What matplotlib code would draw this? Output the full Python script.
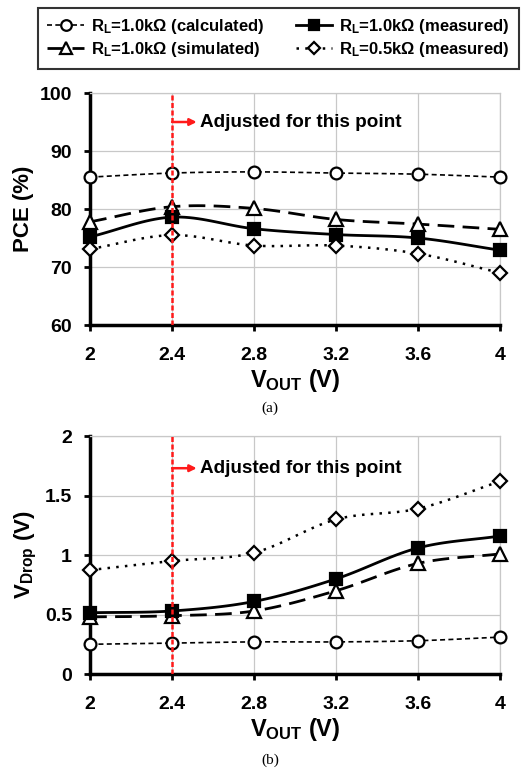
import numpy as np
import matplotlib
matplotlib.use("Agg")
import matplotlib.pyplot as plt
from matplotlib.lines import Line2D

plt.rcParams['font.family'] = ['Liberation Sans', 'DejaVu Sans']
plt.rcParams['font.weight'] = 'bold'
plt.rcParams['mathtext.fontset'] = 'custom'
plt.rcParams['mathtext.rm'] = 'Liberation Sans:bold'
plt.rcParams['mathtext.it'] = 'Liberation Sans:bold'
plt.rcParams['mathtext.bf'] = 'Liberation Sans:bold'

# data
vout = [2.0, 2.4, 2.8, 3.2, 3.6, 4.0]

pce_calc = [85.5, 86.2, 86.4, 86.2, 86.0, 85.5]
pce_sim = [77.8, 80.4, 80.1, 78.2, 77.4, 76.5]
pce_meas1 = [75.2, 78.6, 76.6, 75.6, 75.0, 72.9]
pce_meas05 = [73.1, 75.5, 73.7, 73.7, 72.3, 69.0]

vd_calc = [0.25, 0.26, 0.27, 0.27, 0.28, 0.31]
vd_sim = [0.48, 0.49, 0.53, 0.70, 0.93, 1.01]
vd_meas1 = [0.515, 0.53, 0.61, 0.80, 1.06, 1.16]
vd_meas05 = [0.874, 0.95, 1.02, 1.30, 1.39, 1.62]

labels = [r'R$_L$=1.0k$\Omega$ (calculated)', r'R$_L$=1.0k$\Omega$ (simulated)',
          r'R$_L$=1.0k$\Omega$ (measured)', r'R$_L$=0.5k$\Omega$ (measured)']


def smooth(x, y, n=20):
    # bezier path through the points (like excel smoothed lines)
    x = np.asarray(x, float)
    y = np.asarray(y, float)
    px = np.concatenate([[2 * x[0] - x[1]], x, [2 * x[-1] - x[-2]]])
    py = np.concatenate([[2 * y[0] - y[1]], y, [2 * y[-1] - y[-2]]])
    xs, ys = [], []
    t = np.linspace(0, 1, n)
    for i in range(1, len(px) - 2):
        for p, out in ((px, xs), (py, ys)):
            p0, p1, p2, p3 = p[i - 1], p[i], p[i + 1], p[i + 2]
            b1 = p1 + (p2 - p0) / 6
            b2 = p2 - (p3 - p1) / 6
            out.extend((1 - t) ** 3 * p1 + 3 * (1 - t) ** 2 * t * b1
                       + 3 * (1 - t) * t ** 2 * b2 + t ** 3 * p2)
    return xs, ys


styles = [
    dict(ls=(0, (3, 2)), lw=1.2, marker='o', ms=8.5, mfc='white'),
    dict(ls=(0, (6, 3)), lw=2.0, marker='^', ms=9.5, mfc='white'),
    dict(ls='-', lw=2.0, marker='s', ms=8, mfc='black'),
    dict(ls=(0, (1, 2.5)), lw=1.8, marker='D', ms=7, mfc='white'),
]


def draw(ax, series):
    for s, st in zip(series, styles):
        xs, ys = smooth(vout, s)
        ax.plot(xs, ys, color='black', ls=st['ls'], lw=st['lw'], zorder=3)
        ax.plot(vout, s, ls='none', marker=st['marker'], ms=st['ms'],
                mfc=st['mfc'], mec='black', mew=1.6, zorder=4, clip_on=False)
    ax.set_xlim(2, 4)
    ax.set_xticks(vout)
    ax.set_xticklabels(['2', '2.4', '2.8', '3.2', '3.6', '4'])
    ax.grid(True, color='#c8c8c8', lw=0.9)
    ax.set_axisbelow(True)
    for sp in ('top', 'right'):
        ax.spines[sp].set_color('#c8c8c8')
        ax.spines[sp].set_linewidth(0.9)
    for sp in ('left', 'bottom'):
        ax.spines[sp].set_linewidth(2.5)
    ax.tick_params(labelsize=14, width=2, length=4)
    ax.tick_params(axis='x', pad=12)
    ax.tick_params(axis='y', pad=9)
    for lab in ax.get_xticklabels() + ax.get_yticklabels():
        lab.set_fontweight('bold')
    ax.axvline(2.4, color='#ff1a1a', ls=(0, (2, 1)), lw=1.8, zorder=5)
    ax.set_xlabel(r'V$_{OUT}$ (V)', fontsize=17, fontweight='bold', labelpad=2)


fig = plt.figure(figsize=(5.27, 7.75), dpi=100)

ax1 = fig.add_axes([0.171, 0.5806, 0.778, 0.2994])
draw(ax1, [pce_calc, pce_sim, pce_meas1, pce_meas05])
ax1.set_ylim(60, 100)
ax1.set_yticks([60, 70, 80, 90, 100])
ax1.set_ylabel('PCE (%)', fontsize=16, fontweight='bold', labelpad=4)
ax1.annotate('', xy=(2.52, 95), xytext=(2.4, 95),
             arrowprops=dict(arrowstyle='-|>', color='#ff1a1a', lw=1.8,
                             mutation_scale=10, shrinkA=0, shrinkB=0))
ax1.text(2.535, 95, 'Adjusted for this point', fontsize=13.6, fontweight='bold',
         va='center', ha='left')

ax2 = fig.add_axes([0.171, 0.1303, 0.778, 0.307])
draw(ax2, [vd_calc, vd_sim, vd_meas1, vd_meas05])
ax2.set_ylim(0, 2)
ax2.set_yticks([0, 0.5, 1, 1.5, 2])
ax2.set_yticklabels(['0', '0.5', '1', '1.5', '2'])
ax2.set_ylabel(r'V$_{Drop}$ (V)', fontsize=16, fontweight='bold', labelpad=4)
ax2.annotate('', xy=(2.52, 1.73), xytext=(2.4, 1.73),
             arrowprops=dict(arrowstyle='-|>', color='#ff1a1a', lw=1.8,
                             mutation_scale=10, shrinkA=0, shrinkB=0))
ax2.text(2.535, 1.73, 'Adjusted for this point', fontsize=13.6, fontweight='bold',
         va='center', ha='left')

fig.text(270 / 527, 1 - 408 / 775, '(a)', fontsize=11, family='Liberation Serif',
         fontweight='normal', ha='center', va='center')
fig.text(270 / 527, 1 - 760 / 775, '(b)', fontsize=11, family='Liberation Serif',
         fontweight='normal', ha='center', va='center')

handles = [Line2D([], [], color='black', ls=st['ls'], lw=st['lw'], marker=st['marker'],
                  ms=st['ms'] * 0.9, mfc=st['mfc'], mec='black', mew=1.6)
           for st in styles]
leg = fig.legend(handles, labels, ncol=2, loc='upper left',
                 bbox_to_anchor=(38 / 527, 1 - 8 / 775), fontsize=12,
                 frameon=True, fancybox=False, edgecolor='black',
                 handlelength=2.2, handletextpad=0.4, columnspacing=1.9,
                 borderpad=0.55, labelspacing=0.25, borderaxespad=0)
leg.get_frame().set_linewidth(1.5)

fig.savefig('out.png', dpi=100)
